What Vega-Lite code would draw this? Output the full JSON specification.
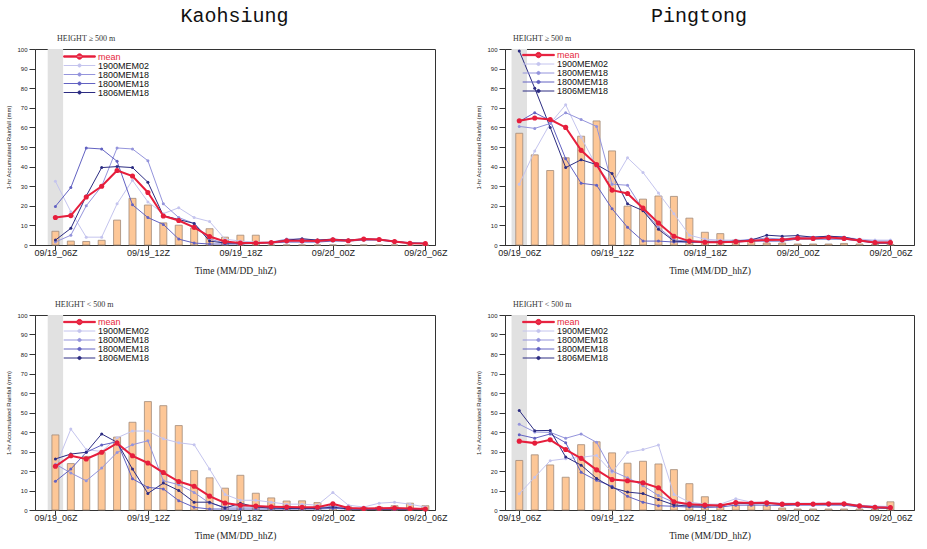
{
  "$schema": "https://vega.github.io/schema/vega-lite/v6.json",
  "padding": {"top": 5, "left": 5, "right": 2, "bottom": 2},
  "background": "white",
  "datasets": {
    "band": [{"x0": -0.5, "x1": 0.5}],
    "rain": [
      {"p":"KH_hi","t":0,"obs":7,"mean":14,"a":32.5,"b":1.5,"c":19.7,"d":2.5},
      {"p":"KH_hi","t":1,"obs":2,"mean":15,"a":17,"b":5,"c":29.3,"d":8.5},
      {"p":"KH_hi","t":2,"obs":1.8,"mean":24.5,"a":4,"b":20,"c":49.5,"d":25},
      {"p":"KH_hi","t":3,"obs":2.4,"mean":30,"a":4,"b":30,"c":49,"d":39.5},
      {"p":"KH_hi","t":4,"obs":12.7,"mean":38,"a":21,"b":49.5,"c":42.7,"d":40},
      {"p":"KH_hi","t":5,"obs":23.8,"mean":35.2,"a":33,"b":49,"c":20.5,"d":39.5},
      {"p":"KH_hi","t":6,"obs":20.4,"mean":26.8,"a":22,"b":43,"c":14,"d":32},
      {"p":"KH_hi","t":7,"obs":11.3,"mean":14.8,"a":16,"b":21,"c":10.5,"d":15},
      {"p":"KH_hi","t":8,"obs":10.1,"mean":12.5,"a":19,"b":14,"c":3,"d":13},
      {"p":"KH_hi","t":9,"obs":8.7,"mean":9,"a":14,"b":11,"c":1,"d":11},
      {"p":"KH_hi","t":10,"obs":8.3,"mean":4.3,"a":12,"b":3,"c":0.5,"d":2},
      {"p":"KH_hi","t":11,"obs":4,"mean":1.8,"a":3,"b":1,"c":0.5,"d":1},
      {"p":"KH_hi","t":12,"obs":5,"mean":1,"a":2,"b":1,"c":0.5,"d":1},
      {"p":"KH_hi","t":13,"obs":5,"mean":1,"a":1.5,"b":1,"c":0.8,"d":1},
      {"p":"KH_hi","t":14,"obs":0,"mean":1.3,"a":1.5,"b":1.5,"c":1,"d":1.3},
      {"p":"KH_hi","t":15,"obs":0,"mean":2.2,"a":2,"b":3,"c":1.5,"d":2.5},
      {"p":"KH_hi","t":16,"obs":0,"mean":2.2,"a":2.5,"b":3,"c":1.5,"d":3.2},
      {"p":"KH_hi","t":17,"obs":0,"mean":2,"a":2,"b":2.5,"c":1.5,"d":2.5},
      {"p":"KH_hi","t":18,"obs":0,"mean":2.7,"a":2.5,"b":3,"c":2,"d":3},
      {"p":"KH_hi","t":19,"obs":0,"mean":2.2,"a":2.5,"b":2.5,"c":2,"d":2.5},
      {"p":"KH_hi","t":20,"obs":0,"mean":3,"a":3,"b":3.2,"c":2.5,"d":3},
      {"p":"KH_hi","t":21,"obs":0,"mean":2.8,"a":3,"b":3,"c":2.5,"d":2.8},
      {"p":"KH_hi","t":22,"obs":0,"mean":1.8,"a":2,"b":2,"c":1.5,"d":1.8},
      {"p":"KH_hi","t":23,"obs":0,"mean":0.9,"a":1,"b":1.2,"c":0.8,"d":1},
      {"p":"KH_hi","t":24,"obs":0,"mean":0.8,"a":0.8,"b":1,"c":0.7,"d":0.8},

      {"p":"PT_hi","t":0,"obs":57,"mean":63.4,"a":31,"b":60.5,"c":63,"d":99},
      {"p":"PT_hi","t":1,"obs":46,"mean":64.8,"a":48,"b":59.5,"c":67.5,"d":80},
      {"p":"PT_hi","t":2,"obs":38,"mean":64,"a":62,"b":62,"c":63.5,"d":60},
      {"p":"PT_hi","t":3,"obs":44.5,"mean":60,"a":71.5,"b":67.5,"c":44,"d":39.5},
      {"p":"PT_hi","t":4,"obs":55.5,"mean":48.3,"a":55,"b":64,"c":31.5,"d":43.5},
      {"p":"PT_hi","t":5,"obs":63.3,"mean":41,"a":40,"b":60.5,"c":30.5,"d":41},
      {"p":"PT_hi","t":6,"obs":48,"mean":28,"a":31,"b":31,"c":18.5,"d":36.5},
      {"p":"PT_hi","t":7,"obs":19.8,"mean":26.3,"a":44.5,"b":30.5,"c":9,"d":21},
      {"p":"PT_hi","t":8,"obs":23.4,"mean":18.8,"a":37,"b":18,"c":2,"d":17.5},
      {"p":"PT_hi","t":9,"obs":25,"mean":11.2,"a":26.5,"b":9,"c":2,"d":8},
      {"p":"PT_hi","t":10,"obs":24.8,"mean":4.5,"a":16,"b":2.5,"c":1.5,"d":2},
      {"p":"PT_hi","t":11,"obs":13.7,"mean":2,"a":5,"b":2,"c":1.5,"d":1.5},
      {"p":"PT_hi","t":12,"obs":6.5,"mean":1.4,"a":3,"b":2,"c":1.5,"d":1.5},
      {"p":"PT_hi","t":13,"obs":5.8,"mean":1.4,"a":2.5,"b":2,"c":1.5,"d":1.5},
      {"p":"PT_hi","t":14,"obs":2.5,"mean":1.7,"a":2.5,"b":2,"c":1.5,"d":2},
      {"p":"PT_hi","t":15,"obs":2.5,"mean":2.2,"a":2.5,"b":3,"c":2,"d":2.5},
      {"p":"PT_hi","t":16,"obs":1,"mean":2.6,"a":3,"b":3.5,"c":2,"d":5},
      {"p":"PT_hi","t":17,"obs":1,"mean":2.7,"a":3,"b":3,"c":2,"d":4.5},
      {"p":"PT_hi","t":18,"obs":0.5,"mean":3.5,"a":4,"b":4,"c":3,"d":4.8},
      {"p":"PT_hi","t":19,"obs":0.5,"mean":3.3,"a":3.5,"b":4,"c":3,"d":4},
      {"p":"PT_hi","t":20,"obs":0.5,"mean":3.8,"a":4,"b":4.5,"c":3,"d":4.5},
      {"p":"PT_hi","t":21,"obs":0.8,"mean":3.3,"a":4,"b":4,"c":3,"d":4},
      {"p":"PT_hi","t":22,"obs":0.5,"mean":2.3,"a":3,"b":2.5,"c":2,"d":2.5},
      {"p":"PT_hi","t":23,"obs":0.3,"mean":1.3,"a":2.5,"b":2,"c":1,"d":1},
      {"p":"PT_hi","t":24,"obs":0.3,"mean":1.3,"a":2.5,"b":2,"c":1,"d":1},

      {"p":"KH_lo","t":0,"obs":38.5,"mean":22.4,"a":22,"b":23.5,"c":14.7,"d":26.2},
      {"p":"KH_lo","t":1,"obs":23.8,"mean":27.8,"a":41.5,"b":19,"c":21,"d":28.7},
      {"p":"KH_lo","t":2,"obs":27.5,"mean":26.2,"a":31,"b":15,"c":29.6,"d":29.6},
      {"p":"KH_lo","t":3,"obs":29.5,"mean":29.6,"a":30,"b":21.5,"c":33.3,"d":39},
      {"p":"KH_lo","t":4,"obs":37.4,"mean":34.3,"a":37,"b":29.5,"c":35,"d":34.7},
      {"p":"KH_lo","t":5,"obs":45,"mean":27.8,"a":40.5,"b":33.5,"c":16,"d":21},
      {"p":"KH_lo","t":6,"obs":55.6,"mean":24.1,"a":40.5,"b":35.5,"c":11.6,"d":8.5},
      {"p":"KH_lo","t":7,"obs":53.5,"mean":19.2,"a":36.5,"b":15,"c":10.8,"d":13.8},
      {"p":"KH_lo","t":8,"obs":43.3,"mean":14.6,"a":34.5,"b":13,"c":4.8,"d":10},
      {"p":"KH_lo","t":9,"obs":20.2,"mean":12.2,"a":33.5,"b":9,"c":1.4,"d":4},
      {"p":"KH_lo","t":10,"obs":16.5,"mean":7.1,"a":21,"b":3.5,"c":0.5,"d":4},
      {"p":"KH_lo","t":11,"obs":11.2,"mean":3.6,"a":8,"b":1.5,"c":0.5,"d":1},
      {"p":"KH_lo","t":12,"obs":17.8,"mean":2.4,"a":5,"b":1.5,"c":0.5,"d":3.5},
      {"p":"KH_lo","t":13,"obs":8.6,"mean":2,"a":5,"b":1.5,"c":0.5,"d":1.5},
      {"p":"KH_lo","t":14,"obs":6.2,"mean":1.7,"a":4,"b":1.2,"c":0.5,"d":1},
      {"p":"KH_lo","t":15,"obs":4.6,"mean":1.5,"a":3,"b":1,"c":0.5,"d":0.8},
      {"p":"KH_lo","t":16,"obs":4.7,"mean":1.4,"a":3,"b":1,"c":0.5,"d":0.8},
      {"p":"KH_lo","t":17,"obs":3.8,"mean":1.4,"a":2.5,"b":1,"c":0.5,"d":0.8},
      {"p":"KH_lo","t":18,"obs":2.8,"mean":3.2,"a":9,"b":2,"c":0.8,"d":1.5},
      {"p":"KH_lo","t":19,"obs":1.6,"mean":1,"a":2.5,"b":0.8,"c":0.5,"d":0.5},
      {"p":"KH_lo","t":20,"obs":1.2,"mean":0.8,"a":1.5,"b":0.8,"c":0.3,"d":0.5},
      {"p":"KH_lo","t":21,"obs":1.5,"mean":0.9,"a":3.5,"b":0.8,"c":0.3,"d":0.5},
      {"p":"KH_lo","t":22,"obs":2.2,"mean":1,"a":4,"b":0.8,"c":0.3,"d":0.5},
      {"p":"KH_lo","t":23,"obs":3.5,"mean":0.8,"a":3,"b":0.8,"c":0.3,"d":0.5},
      {"p":"KH_lo","t":24,"obs":2.2,"mean":0.5,"a":1.5,"b":0.5,"c":0.3,"d":0.3},

      {"p":"PT_lo","t":0,"obs":25.4,"mean":35.3,"a":8.3,"b":44,"c":38.6,"d":51},
      {"p":"PT_lo","t":1,"obs":28.3,"mean":34.3,"a":16.8,"b":40,"c":36.8,"d":40.7},
      {"p":"PT_lo","t":2,"obs":23.1,"mean":36,"a":25.3,"b":39.8,"c":39,"d":40.8},
      {"p":"PT_lo","t":3,"obs":16.8,"mean":31,"a":26.3,"b":36.8,"c":34.5,"d":27.2},
      {"p":"PT_lo","t":4,"obs":33.5,"mean":26.5,"a":27,"b":39,"c":19.3,"d":23},
      {"p":"PT_lo","t":5,"obs":35,"mean":20.6,"a":28,"b":34.7,"c":15.2,"d":16.2},
      {"p":"PT_lo","t":6,"obs":29.3,"mean":15.6,"a":19.3,"b":20,"c":12.2,"d":11.5},
      {"p":"PT_lo","t":7,"obs":24,"mean":15,"a":29.5,"b":16.5,"c":7,"d":9.2},
      {"p":"PT_lo","t":8,"obs":25,"mean":14,"a":31,"b":12.5,"c":4,"d":8.4},
      {"p":"PT_lo","t":9,"obs":23.6,"mean":11.4,"a":33.3,"b":7.4,"c":2.2,"d":5.4},
      {"p":"PT_lo","t":10,"obs":20.7,"mean":4.2,"a":8,"b":3.9,"c":1.9,"d":2.6},
      {"p":"PT_lo","t":11,"obs":13.5,"mean":3,"a":4,"b":2.5,"c":1.5,"d":2},
      {"p":"PT_lo","t":12,"obs":6.8,"mean":2.6,"a":3,"b":2.2,"c":1.3,"d":2},
      {"p":"PT_lo","t":13,"obs":2.5,"mean":2.3,"a":3,"b":2.5,"c":1.5,"d":2.2},
      {"p":"PT_lo","t":14,"obs":2.5,"mean":3.8,"a":5.8,"b":3.5,"c":2.5,"d":3.5},
      {"p":"PT_lo","t":15,"obs":2.5,"mean":3.6,"a":4,"b":3.5,"c":2.5,"d":3.2},
      {"p":"PT_lo","t":16,"obs":2.5,"mean":3.7,"a":4,"b":3.5,"c":2.5,"d":3.4},
      {"p":"PT_lo","t":17,"obs":1,"mean":3,"a":3.5,"b":3,"c":2.3,"d":3},
      {"p":"PT_lo","t":18,"obs":0.5,"mean":3.1,"a":3.5,"b":3.2,"c":2.5,"d":3},
      {"p":"PT_lo","t":19,"obs":0.5,"mean":3.1,"a":3.5,"b":3.2,"c":2.5,"d":3},
      {"p":"PT_lo","t":20,"obs":0.5,"mean":3.2,"a":3.5,"b":3.3,"c":2.5,"d":3},
      {"p":"PT_lo","t":21,"obs":0.5,"mean":3.2,"a":3.5,"b":3.3,"c":2.5,"d":3.1},
      {"p":"PT_lo","t":22,"obs":0.5,"mean":2.1,"a":2.5,"b":2.3,"c":1.5,"d":2},
      {"p":"PT_lo","t":23,"obs":0.5,"mean":1.4,"a":2,"b":1.8,"c":1,"d":1.2},
      {"p":"PT_lo","t":24,"obs":4.2,"mean":1.2,"a":1.8,"b":1.5,"c":0.8,"d":1}
    ]
  },
  "data": {"name": "rain"},
  "config": {
    "view": {"stroke": "#333333", "strokeWidth": 1},
    "axis": {"grid": false, "domainColor": "#333333", "tickColor": "#333333", "labelColor": "#222222", "titleColor": "#222222", "titleFontWeight": "normal", "labelOverlap": false},
    "axisX": {"labelFont": "Liberation Sans", "labelFontSize": 9, "tickSize": 5, "labelPadding": -2, "titleFont": "Liberation Serif", "titleFontSize": 9.5, "titlePadding": 8, "labelFlush": false},
    "axisY": {"labelFont": "Liberation Sans", "labelFontSize": 6, "tickSize": 6, "labelPadding": 2, "titleFont": "Liberation Sans", "titleFontSize": 6, "titlePadding": 5, "labelOverlap": false, "tickCount": 20},
    "legend": {"padding": 0, "labelFont": "Liberation Sans", "labelFontSize": 9, "labelOffset": 2, "clipHeight": 7, "rowPadding": -1.6, "symbolSize": 1000, "symbolStrokeWidth": 1, "labelColor": "#111111"}
  },
  "resolve": {"scale": {"x": "independent", "y": "independent", "color": "independent"}, "legend": {"color": "independent"}},
  "spacing": 27,
  "hconcat": [
    {
      "title": {"text": "Kaohsiung", "font": "Liberation Mono", "fontSize": 20, "fontWeight": "normal", "anchor": "middle", "offset": 9, "dx": 8, "color": "#111111"},
      "resolve": {"scale": {"x": "independent", "y": "independent", "color": "independent"}, "legend": {"color": "independent"}},
      "spacing": 25,
      "vconcat": [
        {
          "width": 400, "height": 196,
          "title": {"text": "HEIGHT ≥ 500 m", "anchor": "start", "frame": "group", "dx": 22, "offset": 3, "font": "Liberation Serif", "fontSize": 8, "fontWeight": "normal", "color": "#333333"},
          "layer": [
            {"data": {"name": "band"}, "mark": {"type": "rect", "color": "#e1e1e1"},
             "encoding": {"x": {"field": "x0", "type": "quantitative", "scale": {"domain": [-1, 24.3], "nice": false, "zero": false}, "title": "Time (MM/DD_hhZ)", "axis": {"values": [0, 6, 12, 18, 24], "labelExpr": "datum.value==0?'09/19_06Z':datum.value==6?'09/19_12Z':datum.value==12?'09/19_18Z':datum.value==18?'09/20_00Z':'09/20_06Z'"}}, "x2": {"field": "x1"},
                          "y": {"datum": 0, "type": "quantitative", "scale": {"domain": [0, 100], "nice": false}, "title": "1-hr Accumulated Rainfall (mm)", "axis": {"values": [0,5,10,15,20,25,30,35,40,45,50,55,60,65,70,75,80,85,90,95,100], "labelOverlap": false}}, "y2": {"datum": 100}}},
            {"transform": [{"filter": "datum.p == 'KH_hi'"}],
             "mark": {"type": "bar", "width": 7, "fill": "#fdc797", "stroke": "#a18a7a", "strokeWidth": 0.8},
             "encoding": {"x": {"field": "t", "type": "quantitative", "title": "Time (MM/DD_hhZ)"},
                          "y": {"field": "obs", "type": "quantitative", "title": "1-hr Accumulated Rainfall (mm)"}}},
            {"transform": [{"filter": "datum.p == 'KH_hi'"}, {"fold": ["a", "b", "c", "d"], "as": ["s", "v"]}],
             "mark": {"type": "line", "strokeWidth": 1},
             "encoding": {"x": {"field": "t", "type": "quantitative", "title": "Time (MM/DD_hhZ)"}, "y": {"field": "v", "type": "quantitative", "title": "1-hr Accumulated Rainfall (mm)"},
                          "color": {"field": "s", "type": "nominal", "scale": {"domain": ["mean", "a", "b", "c", "d"], "range": ["#e61e3c", "#c4c4ee", "#9494dc", "#6262c2", "#2c2c82"]},
                                    "legend": {"orient": "none", "legendX": 28, "legendY": 4, "title": null, "direction": "vertical",
                                               "labelExpr": "datum.value=='mean'?'mean':datum.value=='a'?'1900MEM02':datum.value=='d'?'1806MEM18':'1800MEM18'",
                                               "symbolType": "M-1,0H1M-0.1,0A0.1,0.1 0 1,0 0.1,0A0.1,0.1 0 1,0 -0.1,0",
                                               "encode": {"symbols": {"update": {"shape": {"signal": "datum.value=='mean'?'M-1,-0.04H1V0.04H-1ZM-0.17,0A0.17,0.17 0 1,0 0.17,0A0.17,0.17 0 1,0 -0.17,0':'M-1,0H1M-0.1,0A0.1,0.1 0 1,0 0.1,0A0.1,0.1 0 1,0 -0.1,0'"}, "fill": {"signal": "datum.value=='mean'?'#e61e3c':datum.value=='a'?'#c4c4ee':datum.value=='b'?'#9494dc':datum.value=='c'?'#6262c2':'#2c2c82'"}, "stroke": {"signal": "datum.value=='mean'?'#e61e3c':datum.value=='a'?'#c4c4ee':datum.value=='b'?'#9494dc':datum.value=='c'?'#6262c2':'#2c2c82'"}, "opacity": {"value": 1}}},
                                                          "labels": {"update": {"fill": {"signal": "datum.value=='mean'?'#e61e3c':'#111111'"}}}}}}}},
            {"transform": [{"filter": "datum.p == 'KH_hi'"}, {"fold": ["a", "b", "c", "d"], "as": ["s", "v"]}],
             "mark": {"type": "point", "filled": true, "size": 9, "opacity": 1},
             "encoding": {"x": {"field": "t", "type": "quantitative", "title": "Time (MM/DD_hhZ)"}, "y": {"field": "v", "type": "quantitative", "title": "1-hr Accumulated Rainfall (mm)"},
                          "color": {"field": "s", "type": "nominal", "legend": null}}},
            {"transform": [{"filter": "datum.p == 'KH_hi'"}, {"fold": ["mean"], "as": ["s", "v"]}],
             "mark": {"type": "line", "strokeWidth": 2},
             "encoding": {"x": {"field": "t", "type": "quantitative", "title": "Time (MM/DD_hhZ)"}, "y": {"field": "v", "type": "quantitative", "title": "1-hr Accumulated Rainfall (mm)"},
                          "color": {"field": "s", "type": "nominal", "legend": null}}},
            {"transform": [{"filter": "datum.p == 'KH_hi'"}, {"fold": ["mean"], "as": ["s", "v"]}],
             "mark": {"type": "point", "filled": true, "size": 26, "opacity": 1},
             "encoding": {"x": {"field": "t", "type": "quantitative", "title": "Time (MM/DD_hhZ)"}, "y": {"field": "v", "type": "quantitative", "title": "1-hr Accumulated Rainfall (mm)"},
                          "color": {"field": "s", "type": "nominal", "legend": null}}}
          ]
        },
        {
          "width": 400, "height": 195,
          "title": {"text": "HEIGHT < 500 m", "anchor": "start", "frame": "group", "dx": 20, "offset": 3, "font": "Liberation Serif", "fontSize": 8, "fontWeight": "normal", "color": "#333333"},
          "layer": [
            {"data": {"name": "band"}, "mark": {"type": "rect", "color": "#e1e1e1"},
             "encoding": {"x": {"field": "x0", "type": "quantitative", "scale": {"domain": [-1, 24.3], "nice": false, "zero": false}, "title": "Time (MM/DD_hhZ)", "axis": {"values": [0, 6, 12, 18, 24], "labelExpr": "datum.value==0?'09/19_06Z':datum.value==6?'09/19_12Z':datum.value==12?'09/19_18Z':datum.value==18?'09/20_00Z':'09/20_06Z'"}}, "x2": {"field": "x1"},
                          "y": {"datum": 0, "type": "quantitative", "scale": {"domain": [0, 100], "nice": false}, "title": "1-hr Accumulated Rainfall (mm)", "axis": {"values": [0,5,10,15,20,25,30,35,40,45,50,55,60,65,70,75,80,85,90,95,100], "labelOverlap": false}}, "y2": {"datum": 100}}},
            {"transform": [{"filter": "datum.p == 'KH_lo'"}],
             "mark": {"type": "bar", "width": 7, "fill": "#fdc797", "stroke": "#a18a7a", "strokeWidth": 0.8},
             "encoding": {"x": {"field": "t", "type": "quantitative", "title": "Time (MM/DD_hhZ)"},
                          "y": {"field": "obs", "type": "quantitative", "title": "1-hr Accumulated Rainfall (mm)"}}},
            {"transform": [{"filter": "datum.p == 'KH_lo'"}, {"fold": ["a", "b", "c", "d"], "as": ["s", "v"]}],
             "mark": {"type": "line", "strokeWidth": 1},
             "encoding": {"x": {"field": "t", "type": "quantitative", "title": "Time (MM/DD_hhZ)"}, "y": {"field": "v", "type": "quantitative", "title": "1-hr Accumulated Rainfall (mm)"},
                          "color": {"field": "s", "type": "nominal", "scale": {"domain": ["mean", "a", "b", "c", "d"], "range": ["#e61e3c", "#c4c4ee", "#9494dc", "#6262c2", "#2c2c82"]},
                                    "legend": {"orient": "none", "legendX": 28, "legendY": 3.5, "title": null, "direction": "vertical",
                                               "labelExpr": "datum.value=='mean'?'mean':datum.value=='a'?'1900MEM02':datum.value=='d'?'1806MEM18':'1800MEM18'",
                                               "symbolType": "M-1,0H1M-0.1,0A0.1,0.1 0 1,0 0.1,0A0.1,0.1 0 1,0 -0.1,0",
                                               "encode": {"symbols": {"update": {"shape": {"signal": "datum.value=='mean'?'M-1,-0.04H1V0.04H-1ZM-0.17,0A0.17,0.17 0 1,0 0.17,0A0.17,0.17 0 1,0 -0.17,0':'M-1,0H1M-0.1,0A0.1,0.1 0 1,0 0.1,0A0.1,0.1 0 1,0 -0.1,0'"}, "fill": {"signal": "datum.value=='mean'?'#e61e3c':datum.value=='a'?'#c4c4ee':datum.value=='b'?'#9494dc':datum.value=='c'?'#6262c2':'#2c2c82'"}, "stroke": {"signal": "datum.value=='mean'?'#e61e3c':datum.value=='a'?'#c4c4ee':datum.value=='b'?'#9494dc':datum.value=='c'?'#6262c2':'#2c2c82'"}, "opacity": {"value": 1}}},
                                                          "labels": {"update": {"fill": {"signal": "datum.value=='mean'?'#e61e3c':'#111111'"}}}}}}}},
            {"transform": [{"filter": "datum.p == 'KH_lo'"}, {"fold": ["a", "b", "c", "d"], "as": ["s", "v"]}],
             "mark": {"type": "point", "filled": true, "size": 9, "opacity": 1},
             "encoding": {"x": {"field": "t", "type": "quantitative", "title": "Time (MM/DD_hhZ)"}, "y": {"field": "v", "type": "quantitative", "title": "1-hr Accumulated Rainfall (mm)"},
                          "color": {"field": "s", "type": "nominal", "legend": null}}},
            {"transform": [{"filter": "datum.p == 'KH_lo'"}, {"fold": ["mean"], "as": ["s", "v"]}],
             "mark": {"type": "line", "strokeWidth": 2},
             "encoding": {"x": {"field": "t", "type": "quantitative", "title": "Time (MM/DD_hhZ)"}, "y": {"field": "v", "type": "quantitative", "title": "1-hr Accumulated Rainfall (mm)"},
                          "color": {"field": "s", "type": "nominal", "legend": null}}},
            {"transform": [{"filter": "datum.p == 'KH_lo'"}, {"fold": ["mean"], "as": ["s", "v"]}],
             "mark": {"type": "point", "filled": true, "size": 26, "opacity": 1},
             "encoding": {"x": {"field": "t", "type": "quantitative", "title": "Time (MM/DD_hhZ)"}, "y": {"field": "v", "type": "quantitative", "title": "1-hr Accumulated Rainfall (mm)"},
                          "color": {"field": "s", "type": "nominal", "legend": null}}}
          ]
        }
      ]
    },
    {
      "title": {"text": "Pingtong", "font": "Liberation Mono", "fontSize": 20, "fontWeight": "normal", "anchor": "middle", "offset": 9, "dx": 4, "color": "#111111"},
      "resolve": {"scale": {"x": "independent", "y": "independent", "color": "independent"}, "legend": {"color": "independent"}},
      "spacing": 25,
      "vconcat": [
        {
          "width": 409, "height": 196,
          "title": {"text": "HEIGHT ≥ 500 m", "anchor": "start", "frame": "group", "dx": 8, "offset": 3, "font": "Liberation Serif", "fontSize": 8, "fontWeight": "normal", "color": "#333333"},
          "layer": [
            {"data": {"name": "band"}, "mark": {"type": "rect", "color": "#e1e1e1", "clip": true},
             "encoding": {"x": {"field": "x0", "type": "quantitative", "scale": {"domain": [-0.6, 25.2], "nice": false, "zero": false}, "title": "Time (MM/DD_hhZ)", "axis": {"values": [0, 6, 12, 18, 24], "labelExpr": "datum.value==0?'09/19_06Z':datum.value==6?'09/19_12Z':datum.value==12?'09/19_18Z':datum.value==18?'09/20_00Z':'09/20_06Z'"}}, "x2": {"field": "x1"},
                          "y": {"datum": 0, "type": "quantitative", "scale": {"domain": [0, 100], "nice": false}, "title": "1-hr Accumulated Rainfall (mm)", "axis": {"values": [0,5,10,15,20,25,30,35,40,45,50,55,60,65,70,75,80,85,90,95,100], "labelOverlap": false}}, "y2": {"datum": 100}}},
            {"transform": [{"filter": "datum.p == 'PT_hi'"}],
             "mark": {"type": "bar", "width": 7, "fill": "#fdc797", "stroke": "#a18a7a", "strokeWidth": 0.8},
             "encoding": {"x": {"field": "t", "type": "quantitative", "title": "Time (MM/DD_hhZ)"},
                          "y": {"field": "obs", "type": "quantitative", "title": "1-hr Accumulated Rainfall (mm)"}}},
            {"transform": [{"filter": "datum.p == 'PT_hi'"}, {"fold": ["a", "b", "c", "d"], "as": ["s", "v"]}],
             "mark": {"type": "line", "strokeWidth": 1},
             "encoding": {"x": {"field": "t", "type": "quantitative", "title": "Time (MM/DD_hhZ)"}, "y": {"field": "v", "type": "quantitative", "title": "1-hr Accumulated Rainfall (mm)"},
                          "color": {"field": "s", "type": "nominal", "scale": {"domain": ["mean", "a", "b", "c", "d"], "range": ["#e61e3c", "#c4c4ee", "#9494dc", "#6262c2", "#2c2c82"]},
                                    "legend": {"orient": "none", "legendX": 17, "legendY": 2.5, "title": null, "direction": "vertical",
                                               "labelExpr": "datum.value=='mean'?'mean':datum.value=='a'?'1900MEM02':datum.value=='d'?'1806MEM18':'1800MEM18'",
                                               "symbolType": "M-1,0H1M-0.1,0A0.1,0.1 0 1,0 0.1,0A0.1,0.1 0 1,0 -0.1,0",
                                               "encode": {"symbols": {"update": {"shape": {"signal": "datum.value=='mean'?'M-1,-0.04H1V0.04H-1ZM-0.17,0A0.17,0.17 0 1,0 0.17,0A0.17,0.17 0 1,0 -0.17,0':'M-1,0H1M-0.1,0A0.1,0.1 0 1,0 0.1,0A0.1,0.1 0 1,0 -0.1,0'"}, "fill": {"signal": "datum.value=='mean'?'#e61e3c':datum.value=='a'?'#c4c4ee':datum.value=='b'?'#9494dc':datum.value=='c'?'#6262c2':'#2c2c82'"}, "stroke": {"signal": "datum.value=='mean'?'#e61e3c':datum.value=='a'?'#c4c4ee':datum.value=='b'?'#9494dc':datum.value=='c'?'#6262c2':'#2c2c82'"}, "opacity": {"value": 1}}},
                                                          "labels": {"update": {"fill": {"signal": "datum.value=='mean'?'#e61e3c':'#111111'"}}}}}}}},
            {"transform": [{"filter": "datum.p == 'PT_hi'"}, {"fold": ["a", "b", "c", "d"], "as": ["s", "v"]}],
             "mark": {"type": "point", "filled": true, "size": 9, "opacity": 1},
             "encoding": {"x": {"field": "t", "type": "quantitative", "title": "Time (MM/DD_hhZ)"}, "y": {"field": "v", "type": "quantitative", "title": "1-hr Accumulated Rainfall (mm)"},
                          "color": {"field": "s", "type": "nominal", "legend": null}}},
            {"transform": [{"filter": "datum.p == 'PT_hi'"}, {"fold": ["mean"], "as": ["s", "v"]}],
             "mark": {"type": "line", "strokeWidth": 2},
             "encoding": {"x": {"field": "t", "type": "quantitative", "title": "Time (MM/DD_hhZ)"}, "y": {"field": "v", "type": "quantitative", "title": "1-hr Accumulated Rainfall (mm)"},
                          "color": {"field": "s", "type": "nominal", "legend": null}}},
            {"transform": [{"filter": "datum.p == 'PT_hi'"}, {"fold": ["mean"], "as": ["s", "v"]}],
             "mark": {"type": "point", "filled": true, "size": 26, "opacity": 1},
             "encoding": {"x": {"field": "t", "type": "quantitative", "title": "Time (MM/DD_hhZ)"}, "y": {"field": "v", "type": "quantitative", "title": "1-hr Accumulated Rainfall (mm)"},
                          "color": {"field": "s", "type": "nominal", "legend": null}}}
          ]
        },
        {
          "width": 409, "height": 195,
          "title": {"text": "HEIGHT < 500 m", "anchor": "start", "frame": "group", "dx": 8, "offset": 3, "font": "Liberation Serif", "fontSize": 8, "fontWeight": "normal", "color": "#333333"},
          "layer": [
            {"data": {"name": "band"}, "mark": {"type": "rect", "color": "#e1e1e1", "clip": true},
             "encoding": {"x": {"field": "x0", "type": "quantitative", "scale": {"domain": [-0.6, 25.2], "nice": false, "zero": false}, "title": "Time (MM/DD_hhZ)", "axis": {"values": [0, 6, 12, 18, 24], "labelExpr": "datum.value==0?'09/19_06Z':datum.value==6?'09/19_12Z':datum.value==12?'09/19_18Z':datum.value==18?'09/20_00Z':'09/20_06Z'"}}, "x2": {"field": "x1"},
                          "y": {"datum": 0, "type": "quantitative", "scale": {"domain": [0, 100], "nice": false}, "title": "1-hr Accumulated Rainfall (mm)", "axis": {"values": [0,5,10,15,20,25,30,35,40,45,50,55,60,65,70,75,80,85,90,95,100], "labelOverlap": false}}, "y2": {"datum": 100}}},
            {"transform": [{"filter": "datum.p == 'PT_lo'"}],
             "mark": {"type": "bar", "width": 7, "fill": "#fdc797", "stroke": "#a18a7a", "strokeWidth": 0.8},
             "encoding": {"x": {"field": "t", "type": "quantitative", "title": "Time (MM/DD_hhZ)"},
                          "y": {"field": "obs", "type": "quantitative", "title": "1-hr Accumulated Rainfall (mm)"}}},
            {"transform": [{"filter": "datum.p == 'PT_lo'"}, {"fold": ["a", "b", "c", "d"], "as": ["s", "v"]}],
             "mark": {"type": "line", "strokeWidth": 1},
             "encoding": {"x": {"field": "t", "type": "quantitative", "title": "Time (MM/DD_hhZ)"}, "y": {"field": "v", "type": "quantitative", "title": "1-hr Accumulated Rainfall (mm)"},
                          "color": {"field": "s", "type": "nominal", "scale": {"domain": ["mean", "a", "b", "c", "d"], "range": ["#e61e3c", "#c4c4ee", "#9494dc", "#6262c2", "#2c2c82"]},
                                    "legend": {"orient": "none", "legendX": 17, "legendY": 3.5, "title": null, "direction": "vertical",
                                               "labelExpr": "datum.value=='mean'?'mean':datum.value=='a'?'1900MEM02':datum.value=='d'?'1806MEM18':'1800MEM18'",
                                               "symbolType": "M-1,0H1M-0.1,0A0.1,0.1 0 1,0 0.1,0A0.1,0.1 0 1,0 -0.1,0",
                                               "encode": {"symbols": {"update": {"shape": {"signal": "datum.value=='mean'?'M-1,-0.04H1V0.04H-1ZM-0.17,0A0.17,0.17 0 1,0 0.17,0A0.17,0.17 0 1,0 -0.17,0':'M-1,0H1M-0.1,0A0.1,0.1 0 1,0 0.1,0A0.1,0.1 0 1,0 -0.1,0'"}, "fill": {"signal": "datum.value=='mean'?'#e61e3c':datum.value=='a'?'#c4c4ee':datum.value=='b'?'#9494dc':datum.value=='c'?'#6262c2':'#2c2c82'"}, "stroke": {"signal": "datum.value=='mean'?'#e61e3c':datum.value=='a'?'#c4c4ee':datum.value=='b'?'#9494dc':datum.value=='c'?'#6262c2':'#2c2c82'"}, "opacity": {"value": 1}}},
                                                          "labels": {"update": {"fill": {"signal": "datum.value=='mean'?'#e61e3c':'#111111'"}}}}}}}},
            {"transform": [{"filter": "datum.p == 'PT_lo'"}, {"fold": ["a", "b", "c", "d"], "as": ["s", "v"]}],
             "mark": {"type": "point", "filled": true, "size": 9, "opacity": 1},
             "encoding": {"x": {"field": "t", "type": "quantitative", "title": "Time (MM/DD_hhZ)"}, "y": {"field": "v", "type": "quantitative", "title": "1-hr Accumulated Rainfall (mm)"},
                          "color": {"field": "s", "type": "nominal", "legend": null}}},
            {"transform": [{"filter": "datum.p == 'PT_lo'"}, {"fold": ["mean"], "as": ["s", "v"]}],
             "mark": {"type": "line", "strokeWidth": 2},
             "encoding": {"x": {"field": "t", "type": "quantitative", "title": "Time (MM/DD_hhZ)"}, "y": {"field": "v", "type": "quantitative", "title": "1-hr Accumulated Rainfall (mm)"},
                          "color": {"field": "s", "type": "nominal", "legend": null}}},
            {"transform": [{"filter": "datum.p == 'PT_lo'"}, {"fold": ["mean"], "as": ["s", "v"]}],
             "mark": {"type": "point", "filled": true, "size": 26, "opacity": 1},
             "encoding": {"x": {"field": "t", "type": "quantitative", "title": "Time (MM/DD_hhZ)"}, "y": {"field": "v", "type": "quantitative", "title": "1-hr Accumulated Rainfall (mm)"},
                          "color": {"field": "s", "type": "nominal", "legend": null}}}
          ]
        }
      ]
    }
  ]
}
